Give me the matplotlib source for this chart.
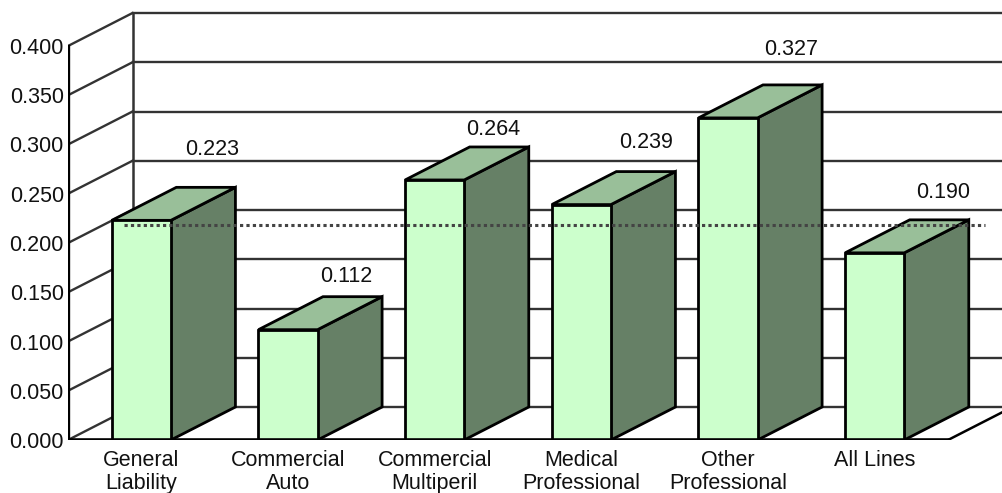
import matplotlib
matplotlib.use('Agg')
import matplotlib.pyplot as plt

plt.rcParams['font.family'] = ['Liberation Sans', 'DejaVu Sans']

categories = ['General\nLiability', 'Commercial\nAuto', 'Commercial\nMultiperil',
              'Medical\nProfessional', 'Other\nProfessional', 'All Lines']
values = [0.223, 0.112, 0.264, 0.239, 0.327, 0.190]
average = 0.218
y_ticks = [0.0, 0.05, 0.1, 0.15, 0.2, 0.25, 0.3, 0.35, 0.4]

# fake 3d, offsets are in data units
bar_w = 0.403
depth_x = 0.44
depth_y = 0.0335
label_dx = [0.48, 0.40, 0.40, 0.44, 0.43, 0.47]
label_dy = [0.072, 0.054, 0.051, 0.063, 0.069, 0.061]

fig = plt.figure(figsize=(10.02, 4.93), dpi=100)
ax = fig.add_axes([68 / 1002, 53 / 493, 934 / 1002, 440 / 493])
ax.set_xlim(0, 934 / 146.67)
ax.set_ylim(0, 440 / 985)
for s in ax.spines.values():
    s.set_visible(False)

grid_c = '#333333'
for t in y_ticks:
    # side wall, then back wall
    ax.plot([0, depth_x], [t, t + depth_y], color=grid_c, lw=1.7, zorder=1)
    ax.plot([depth_x, ax.get_xlim()[1]], [t + depth_y] * 2, color=grid_c, lw=1.7, zorder=1)
ax.plot([depth_x, depth_x], [depth_y, 0.4 + depth_y], color=grid_c, lw=1.8, zorder=1)

# floor
floor_end = 880 / 146.67
ax.plot([floor_end, floor_end + depth_x], [0, depth_y], color='black', lw=1.8, zorder=1)
ax.plot([0, floor_end], [0, 0], color='black', lw=2.6, zorder=4)
ax.plot([0, 0], [0, 0.4], color='black', lw=2.4, zorder=4)

for i, v in enumerate(values):
    left = i + 0.5 - bar_w / 2
    right = left + bar_w
    ax.fill([right, right + depth_x, right + depth_x, right],
            [0, depth_y, v + depth_y, v],
            facecolor='#668066', edgecolor='black', lw=2.0, zorder=2, joinstyle='miter')
    ax.fill([left, right, right + depth_x, left + depth_x],
            [v, v, v + depth_y, v + depth_y],
            facecolor='#99BF99', edgecolor='black', lw=2.0, zorder=2, joinstyle='miter')
    ax.fill([left, right, right, left], [0, 0, v, v],
            facecolor='#CCFFCC', edgecolor='black', lw=2.0, zorder=3, joinstyle='miter')
    ax.text(i + 0.5 + label_dx[i], v + label_dy[i], '%.3f' % v,
            ha='center', va='center', fontsize=15.5, color='#111111')

ax.plot([(124 - 68) / 146.67, (985 - 68) / 146.67], [average, average], color='#444444',
        lw=2.2, linestyle=(0, (1.05, 1.05)), dash_capstyle='butt', zorder=5)

ax.set_yticks(y_ticks)
ax.set_yticklabels(['%.3f' % t for t in y_ticks], fontsize=15.5, color='#111111')
ax.set_xticks([i + 0.5 for i in range(len(categories))])
ax.set_xticklabels(categories, fontsize=15.5, color='#111111', linespacing=1.15)
ax.tick_params(axis='both', length=0)
ax.tick_params(axis='y', pad=3)
ax.tick_params(axis='x', pad=7)

fig.savefig('out.png', dpi=100)
